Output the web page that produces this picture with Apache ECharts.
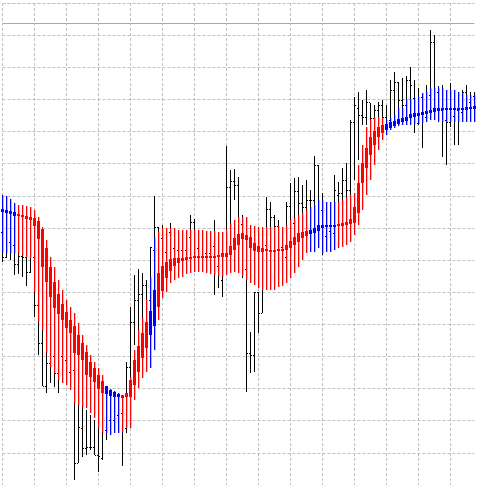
<!DOCTYPE html>
<html>
<head>
<meta charset="utf-8">
<title>Heiken Ashi Smoothed</title>
<style>
    html, body {margin: 0; padding: 0; background: #fff;}
    #chart {width: 477px; height: 490px;}
</style>
</head>
<body>
<div id="chart"></div>
<script src="https://cdn.jsdelivr.net/npm/echarts@6.0.0/dist/echarts.min.js"></script>
<script>
    // price bars, in points (one grid step = 32.13 points)
    var barOpen = [
        253,228,243,240,221,229,228,213,228,180,
        142,99,122,129,112,129,125,113,115,22,
        57,37,38,38,30,27,55,65,65,70,
        72,57,118,163,185,191,200,185,235,258,
        247,233,253,237,235,235,235,248,263,237,
        228,232,232,239,219,205,230,298,304,300,
        261,216,132,130,193,172,240,276,268,259,
        238,228,279,262,294,282,278,285,285,320,
        275,249,254,252,290,292,305,295,363,377,
        370,368,383,367,375,380,368,365,395,403,
        385,380,405,387,362,388,368,390,443,393,
        375,365,363,369,375,373,393,383,389
    ];
    var barHigh = [
        285,285,280,275,270,265,260,255,245,225,
        185,165,155,145,140,135,130,127,120,105,
        85,75,70,65,58,57,70,75,75,80,
        75,123,178,210,216,212,205,238,289,258,
        260,255,262,245,240,245,250,270,266,245,
        240,240,245,265,223,227,339,315,316,308,
        270,217,153,193,193,240,288,283,270,265,
        245,283,302,307,308,300,305,295,329,320,
        292,260,257,310,303,317,322,365,388,393,
        385,395,382,380,383,385,380,405,413,403,
        407,409,418,405,397,390,400,455,450,399,
        400,390,402,393,385,395,400,393,393
    ];
    var barLow = [
        223,227,225,210,211,208,199,212,168,130,
        99,92,102,98,92,107,110,105,5,22,
        28,30,35,30,13,25,45,52,55,57,
        19,52,57,140,155,165,167,175,185,195,
        220,223,227,225,223,225,227,230,230,223,
        220,220,223,190,197,188,227,257,285,255,
        207,93,112,113,152,172,235,235,235,230,
        223,228,240,255,260,255,263,260,265,260,
        230,233,233,245,257,265,270,285,305,325,
        360,360,360,362,360,365,360,363,365,367,
        365,370,367,352,360,337,365,367,370,363,
        328,320,358,340,340,365,373,373,370
    ];
    var barClose = [
        228,243,240,221,229,228,213,228,180,142,
        99,122,129,112,129,125,113,115,22,58,
        37,38,38,30,29,55,65,65,70,72,
        58,118,163,185,191,200,185,238,258,245,
        233,253,237,235,235,240,248,263,237,228,
        232,232,239,219,220,227,298,304,300,261,
        216,132,130,193,172,240,276,268,259,238,
        228,279,262,294,282,278,285,285,320,275,
        249,254,252,295,292,305,295,363,380,370,
        368,383,367,375,380,368,365,395,403,385,
        380,405,400,362,388,368,390,443,393,375,
        365,363,369,375,373,393,383,389,373
    ];

    // smoothed heiken ashi: thin range and thick body
    var haHigh = [
        290,289,286,282,280,280,279,278,275,268,
        258,245,228,218,205,195,185,178,172,162,
        150,140,130,123,117,110,99,96,94,92,
        90,92,108,135,155,167,185,208,248,253,
        257,257,257,257,255,255,255,255,255,255,
        255,254,254,254,253,253,255,262,265,268,
        268,268,260,259,258,258,258,258,258,259,
        258,260,265,267,270,272,275,278,280,285,
        285,283,283,283,283,285,287,290,292,320,
        340,358,365,368,368,367,365,367,370,377,
        377,386,386,387,388,392,393,397,397,397,
        397,395,395,395,393,392,390,390,390
    ];
    var haLow = [
        233,232,232,232,232,230,228,227,193,163,
        155,132,118,112,105,102,100,95,82,80,
        78,77,72,67,57,52,52,50,52,52,
        53,57,57,85,97,107,113,117,135,165,
        187,193,202,205,207,208,211,212,213,213,
        213,212,211,210,209,208,210,212,213,212,
        209,205,202,200,197,195,195,195,195,198,
        199,202,207,212,218,225,232,233,233,237,
        232,233,233,235,237,238,240,243,250,260,
        275,290,305,320,335,345,350,355,357,359,
        360,360,360,361,361,362,363,365,365,364,
        363,363,363,363,363,363,363,363,363
    ];
    var haBodyTop = [
        276,275,274,273,271,270,269,268,267,264,
        256,237,218,203,191,181,173,165,159,150,
        142,133,123,117,110,104,99,95,93,91,
        90,92,105,125,139,152,163,174,195,212,
        219,223,226,227,227,227,228,228,229,229,
        229,229,229,229,230,232,232,239,247,251,
        252,250,248,242,239,237,236,235,235,236,
        236,240,244,248,252,253,254,255,257,260,
        260,260,260,260,261,262,263,266,278,302,
        322,337,348,354,358,360,361,363,364,366,
        367,368,371,372,372,373,374,375,377,377,
        377,377,377,377,377,377,378,378,379
    ];
    var haBodyBottom = [
        273,272,271,269,269,268,266,265,259,246,
        218,203,188,177,171,165,157,152,132,130,
        125,110,108,103,96,92,91,89,88,88,
        87,88,88,100,113,127,137,150,159,178,
        194,207,214,219,222,224,225,226,227,227,
        227,227,227,227,228,228,228,230,235,240,
        246,245,237,234,233,233,234,234,234,234,
        234,235,237,240,243,247,249,251,252,254,
        257,258,258,258,259,259,260,261,262,272,
        302,317,330,340,348,352,355,357,359,361,
        363,364,367,368,369,370,371,372,373,374,
        375,375,375,375,375,375,375,376,376
    ];
    // 1 = blue (up), 0 = red (down)
    var haTrend = [
        1,1,1,1,0,0,0,0,0,0,
        0,0,0,0,0,0,0,0,0,0,
        0,0,0,0,0,0,1,1,1,1,
        0,0,0,0,0,0,0,1,1,0,
        0,0,0,0,0,0,0,0,0,0,
        0,0,0,0,0,0,0,0,0,0,
        0,0,0,0,0,0,0,0,0,0,
        0,0,0,0,0,0,0,1,1,1,
        1,1,1,1,0,0,0,0,0,0,
        0,0,0,0,0,0,1,1,1,1,
        1,1,1,1,1,1,1,1,1,1,
        1,1,1,1,1,1,1,1,1
    ];
    var levelLine = 462;   // horizontal line near the top

    var categories = barOpen.map(function (v, i) { return i; });
    var barData = barOpen.map(function (v, i) {
        return [i, barOpen[i], barHigh[i], barLow[i], barClose[i]];
    });
    var haData = haHigh.map(function (v, i) {
        return [i, haHigh[i], haLow[i], haBodyTop[i], haBodyBottom[i], haTrend[i]];
    });

    var gridLine = {color: '#c0c0c0', type: [3, 2], width: 1};

    // OHLC bar: vertical line, open tick left, close tick right
    function renderBar(params, api) {
        var i = api.value(0);
        var x = Math.floor(api.coord([i, 0])[0]);
        var yo = Math.round(api.coord([i, api.value(1)])[1]);
        var yh = Math.round(api.coord([i, api.value(2)])[1]);
        var yl = Math.round(api.coord([i, api.value(3)])[1]);
        var yc = Math.round(api.coord([i, api.value(4)])[1]);
        var st = {fill: '#000000'};
        return {
            type: 'group',
            children: [
                {type: 'rect', shape: {x: x, y: yh, width: 1, height: Math.max(1, yl - yh)}, style: st},
                {type: 'rect', shape: {x: x - 1, y: yo, width: 1, height: 1}, style: st},
                {type: 'rect', shape: {x: x + 1, y: yc, width: 1, height: 1}, style: st}
            ]
        };
    }

    // range line (1px + soft edge) and 3px body
    function renderHa(params, api) {
        var i = api.value(0);
        var x = Math.floor(api.coord([i, 0])[0]);
        var yh = Math.round(api.coord([i, api.value(1)])[1]);
        var yl = Math.round(api.coord([i, api.value(2)])[1]);
        var yt = Math.round(api.coord([i, api.value(3)])[1]);
        var yb = Math.round(api.coord([i, api.value(4)])[1]);
        var up = api.value(5) === 1;
        var color = up ? '#0000ff' : '#ff0000';
        var soft = up ? '#b4b4ff' : '#ffb4b4';
        var h = Math.max(1, yl - yh);
        return {
            type: 'group',
            children: [
                {type: 'rect', shape: {x: x + 1, y: yh, width: 1, height: h}, style: {fill: soft}},
                {type: 'rect', shape: {x: x, y: yh, width: 1, height: h}, style: {fill: color}},
                {type: 'rect', shape: {x: x - 1, y: yt, width: 3, height: Math.max(2, yb - yt)}, style: {fill: color}}
            ]
        };
    }

    var myChart = echarts.init(document.getElementById('chart'));
    var option = {
        animation: false,
        backgroundColor: '#ffffff',
        grid: {left: 2.5, right: 2.5, top: 3, bottom: 5},
        xAxis: {
            type: 'category',
            data: categories,
            boundaryGap: false,
            axisLine: {show: false},
            axisTick: {show: false},
            axisLabel: {show: false},
            splitLine: {
                show: true,
                interval: function (index) { return index % 8 === 0; },
                lineStyle: gridLine
            }
        },
        yAxis: {
            type: 'value',
            min: 0,
            max: 482,
            interval: 482 / 15,
            axisLine: {show: false},
            axisTick: {show: false},
            axisLabel: {show: false},
            splitLine: {show: true, showMinLine: false, lineStyle: gridLine}
        },
        series: [
            {
                name: 'bars',
                type: 'custom',
                renderItem: renderBar,
                data: barData,
                encode: {x: 0, y: [1, 2, 3, 4]},
                z: 2
            },
            {
                name: 'heiken ashi',
                type: 'custom',
                renderItem: renderHa,
                data: haData,
                encode: {x: 0, y: [1, 2, 3, 4]},
                z: 3,
                markLine: {
                    silent: true,
                    symbol: ['none', 'none'],
                    label: {show: false},
                    lineStyle: {color: '#aaaaaa', type: 'solid', width: 1},
                    data: [{yAxis: levelLine}]
                }
            }
        ]
    };
    myChart.setOption(option);
</script>
</body>
</html>
